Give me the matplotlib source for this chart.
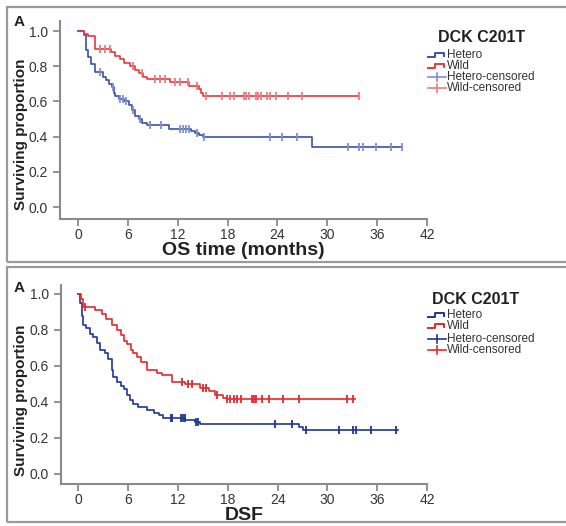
import numpy as np
import matplotlib.pyplot as plt
from matplotlib.lines import Line2D
from matplotlib.patches import Rectangle

plt.rcParams['font.family'] = ['Liberation Sans', 'DejaVu Sans']

# OS panel
os_het_t = [0.7, 0.9, 1.0, 1.2, 1.6, 2.0, 3.0, 3.4, 3.7, 4.1, 4.3, 4.5, 4.9, 5.5, 6.1, 6.5, 6.9,
            7.3, 7.7, 8.3, 11.0, 13.6, 14.1, 14.6, 15.0, 28.2]
os_het_s = [0.98, 0.93, 0.89, 0.85, 0.81, 0.77, 0.74, 0.72, 0.70, 0.68, 0.65, 0.63, 0.615, 0.60,
            0.58, 0.55, 0.52, 0.50, 0.48, 0.467, 0.445, 0.43, 0.42, 0.41, 0.396, 0.343]
os_het_end = 39.0
os_het_cens = [2.6, 4.2, 5.0, 5.4, 5.8, 6.6, 7.4, 8.7, 10.0, 12.3, 12.6, 13.0, 13.3, 14.3, 15.2,
               23.1, 24.5, 26.4, 32.5, 33.8, 34.3, 35.9, 37.7, 39.0]

os_wild_t = [0.7, 1.2, 2.0, 4.0, 4.5, 5.0, 5.5, 6.2, 6.8, 7.3, 7.8, 8.3, 11.1, 13.3, 14.5, 14.8, 15.1]
os_wild_s = [0.985, 0.97, 0.90, 0.88, 0.86, 0.84, 0.82, 0.80, 0.78, 0.76, 0.74, 0.725, 0.71, 0.69,
             0.67, 0.65, 0.632]
os_wild_end = 33.8
os_wild_cens = [2.6, 3.2, 3.9, 6.6, 7.7, 9.3, 9.9, 10.5, 11.7, 12.3, 13.2, 14.3, 15.4, 17.3, 18.3,
                18.8, 20.0, 20.2, 20.6, 21.4, 21.7, 22.0, 22.7, 23.1, 23.8, 25.3, 27.0, 33.8]

# DSF panel
dsf_het_t = [0.2, 0.4, 0.6, 0.9, 1.4, 1.8, 2.2, 2.6, 3.2, 3.6, 4.0, 4.2, 4.6, 5.1, 5.5, 5.8, 6.2,
             6.6, 7.2, 8.3, 9.1, 9.7, 10.2, 12.9, 14.1, 14.7, 26.6, 27.0]
dsf_het_s = [0.95, 0.88, 0.83, 0.81, 0.78, 0.76, 0.73, 0.69, 0.67, 0.64, 0.58, 0.54, 0.51, 0.49,
             0.47, 0.44, 0.41, 0.39, 0.37, 0.355, 0.34, 0.325, 0.31, 0.30, 0.29, 0.275, 0.26, 0.245]
dsf_het_end = 38.5
dsf_het_cens = [11.1, 11.3, 12.3, 12.6, 12.8, 14.2, 14.4, 23.7, 25.7, 27.4, 31.4, 33.1, 33.5,
                35.2, 38.3]

dsf_wild_t = [0.3, 0.6, 2.0, 2.8, 3.3, 4.0, 4.7, 5.1, 5.5, 5.9, 6.3, 6.6, 7.1, 7.5, 8.3, 9.5, 10.1,
              11.3, 12.9, 14.7, 15.7, 16.5, 17.4, 17.9]
dsf_wild_s = [0.97, 0.93, 0.91, 0.89, 0.86, 0.83, 0.80, 0.77, 0.74, 0.72, 0.69, 0.67, 0.65, 0.62,
              0.58, 0.56, 0.55, 0.51, 0.50, 0.48, 0.46, 0.44, 0.42, 0.415]
dsf_wild_end = 33.3
dsf_wild_cens = [0.8, 12.5, 13.2, 13.7, 15.0, 15.4, 16.7, 17.9, 18.3, 18.7, 19.1, 19.6, 20.9,
                 21.2, 21.4, 22.1, 23.0, 24.7, 26.6, 32.4, 33.1]

xticks = [0, 6, 12, 18, 24, 30, 36, 42]
yticks = [0.0, 0.2, 0.4, 0.6, 0.8, 1.0]
legend_labels = ['Hetero', 'Wild', 'Hetero-censored', 'Wild-censored']

W, H = 566, 526
fig = plt.figure(figsize=(W / 100, H / 100), dpi=100)


def px(x0, y0, x1, y1):
    return [x0 / W, 1 - y1 / H, (x1 - x0) / W, (y1 - y0) / H]


def km(ax, t, s, end, cens, color, ccolor):
    tt = np.r_[0, t, end]
    ss = np.r_[1, s, s[-1]]
    ax.step(tt, ss, where='post', color=color, lw=1.2, zorder=3)
    idx = np.searchsorted(tt, cens, side='right') - 1
    ax.plot(cens, ss[idx], ls='none', marker='|', ms=5.5, mew=1.3, color=ccolor, zorder=4)


def panel(top, ax_box, xlim, ylim, xlabel, data, blue, cblue, red, cred, a_y, ylab_pos,
          title_xy, leg_x, leg_y):
    fig.add_artist(Rectangle((7 / W, 1 - (top + 255) / H), 600 / W, 255 / H,
                             transform=fig.transFigure, fill=False, ec='#9a9a9a', lw=1.6))
    ax = fig.add_axes(px(*ax_box))
    (ht, hs, he, hc), (wt, ws, we, wc) = data
    km(ax, ht, hs, he, hc, blue, cblue)
    km(ax, wt, ws, we, wc, red, cred)
    ax.set_xlim(*xlim)
    ax.set_ylim(*ylim)
    ax.set_xticks(xticks)
    ax.set_yticks(yticks)
    ax.set_yticklabels([f'{v:.1f}' for v in yticks])
    for sp in ['top', 'right']:
        ax.spines[sp].set_visible(False)
    for sp in ['left', 'bottom']:
        ax.spines[sp].set_color('#8a8a8a')
        ax.spines[sp].set_linewidth(1.5)
    ax.tick_params(colors='#8a8a8a', labelcolor='#333333', labelsize=10, length=5, width=1.3)
    ax.tick_params(axis='x', pad=1.5)
    ax.set_ylabel('Surviving proportion', fontsize=11, fontweight='bold', color='#222222')
    ax.yaxis.set_label_coords(*ylab_pos)
    ax.set_xlabel(xlabel, fontsize=14, fontweight='bold', color='#222222', labelpad=0)
    fig.text(14 / W, 1 - a_y / H, 'A', fontsize=11, fontweight='bold', color='#222222',
             va='center')
    fig.text(title_xy[0] / W, 1 - title_xy[1] / H, 'DCK C201T', fontsize=11.5, fontweight='bold',
             color='#222222', va='center')
    colors = [blue, red, cblue, cred]
    for i, (lab, c) in enumerate(zip(legend_labels, colors)):
        yy = leg_y[i]
        if i < 2:
            xs = [leg_x, leg_x + 7, leg_x + 7, leg_x + 16, leg_x + 16]
            ys = [yy + 2, yy + 2, yy - 2, yy - 2, yy + 1]
            fig.add_artist(Line2D([x / W for x in xs], [1 - y / H for y in ys], color=c, lw=1.4,
                                  transform=fig.transFigure))
        else:
            fig.add_artist(Line2D([leg_x / W, (leg_x + 18) / W], [1 - yy / H] * 2, color=c, lw=1.2,
                                  transform=fig.transFigure))
            fig.add_artist(Line2D([(leg_x + 9) / W] * 2, [1 - (yy - 4) / H, 1 - (yy + 4) / H],
                                  color=c, lw=1.2, transform=fig.transFigure))
        fig.text((leg_x + 19) / W, 1 - yy / H, lab, fontsize=8.5, color='#333333', va='center')
    return ax


panel(7, (60, 21, 427, 219), (-2.17, 42), (-0.068, 1.057), 'OS time (months)',
      [(os_het_t, os_het_s, os_het_end, os_het_cens),
       (os_wild_t, os_wild_s, os_wild_end, os_wild_cens)],
      '#3b4fae', '#7f8fd0', '#e8363a', '#f07a7c', 22, (-0.087, 0.43),
      (438, 38), 428, [55, 66, 77, 88])

panel(267, (61, 285, 427, 484), (-2.1, 42), (-0.056, 1.05), 'DSF',
      [(dsf_het_t, dsf_het_s, dsf_het_end, dsf_het_cens),
       (dsf_wild_t, dsf_wild_s, dsf_wild_end, dsf_wild_cens)],
      '#1f3596', '#1f3596', '#e8262b', '#e8262b', 288, (-0.09, 0.42),
      (432, 299), 428, [315, 326, 339, 350])

fig.savefig('out.png', dpi=100)
